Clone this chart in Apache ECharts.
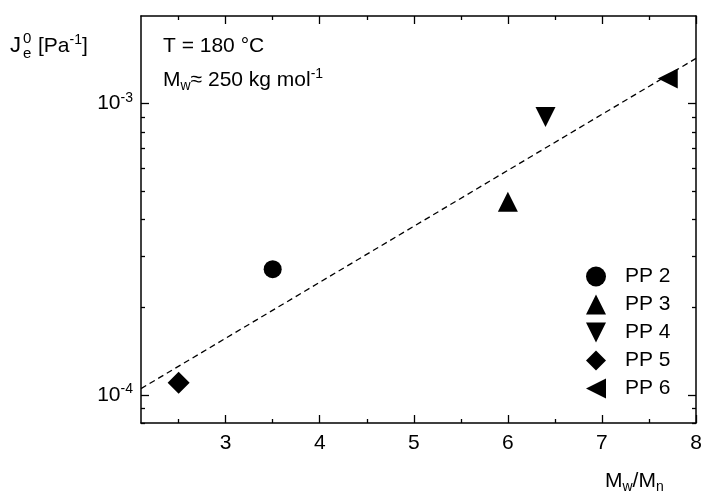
<!DOCTYPE html>
<html><head><meta charset="utf-8">
<script src="https://cdn.jsdelivr.net/npm/echarts@6/dist/echarts.min.js"></script>
<style>html,body{margin:0;padding:0;background:#fff}#c{width:714px;height:502px}</style>
</head><body><div id="c"></div>
<script>
const seriesNames = ['PP 2', 'PP 3', 'PP 4', 'PP 5', 'PP 6'];
const mwmn = [3.5, 6.0, 6.4, 2.5, 7.7];
const je0 = [2.7e-4, 4.6e-4, 9.0e-4, 1.1e-4, 1.22e-3];
const symbols = ['circle', 'triangle', 'triangle', 'diamond', 'triangle'];
const rotations = [0, 0, 180, 0, 90];
const sizes = [18, 20, 20, 22, 20];
const legendIcons = ['circle', 'triangle', 'path://M0,0L20,0L10,20Z', 'diamond', 'path://M20,0L20,20L0,10Z'];
const fitX = [2.1, 8];
const fitY = [1.05e-4, 1.43e-3];
const xMajorTicks = [3, 4, 5, 6, 7, 8];
const xMinorTicks = [2.5, 3.5, 4.5, 5.5, 6.5, 7.5];
const yMajorTicks = [1e-4, 1e-3];
const yMinorTicks = [8e-5, 9e-5, 2e-4, 3e-4, 4e-4, 5e-4, 6e-4, 7e-4, 8e-4, 9e-4];

const FONT = '"Liberation Sans", Arial, sans-serif';
const X_MIN = 2.1, X_MAX = 8, Y_MIN = 8e-5, Y_MAX = 2e-3;
const supRich = {
  n: { fontSize: 21, fontFamily: FONT, color: '#000', lineHeight: 26 },
  sup: { fontSize: 14, fontFamily: FONT, color: '#000', verticalAlign: 'top', lineHeight: 10 },
  sub: { fontSize: 14, fontFamily: FONT, color: '#000', verticalAlign: 'bottom', lineHeight: 12 }
};

function xAx(grid, pos, ticks, len, labels, line) {
  return {
    type: 'value', gridIndex: grid, position: pos, min: X_MIN, max: X_MAX,
    axisLine: { show: line, onZero: false, lineStyle: { color: '#000', width: 1.5 } },
    axisTick: { show: true, inside: true, length: len, customValues: ticks, lineStyle: { color: '#000', width: 1.3 } },
    axisLabel: labels ? { show: true, customValues: ticks, fontSize: 21, fontFamily: FONT, color: '#000', margin: 10 } : { show: false },
    splitLine: { show: false }
  };
}
function yAx(grid, pos, ticks, len, labels, line) {
  return {
    type: 'log', logBase: 10, gridIndex: grid, position: pos, min: Y_MIN, max: Y_MAX,
    axisLine: { show: line, onZero: false, lineStyle: { color: '#000', width: 1.5 } },
    axisTick: { show: true, inside: true, length: len, customValues: ticks, lineStyle: { color: '#000', width: 1.3 } },
    axisLabel: labels ? {
      show: true, customValues: ticks, margin: 8,
      formatter: v => '{n|10}{sup|' + Math.round(Math.log10(v)) + '}',
      rich: supRich
    } : { show: false },
    splitLine: { show: false }
  };
}

const gridRect = { left: 141, right: 18, top: 16, bottom: 79, containLabel: false };

const series = seriesNames.map((name, i) => ({
  name: name, type: 'scatter', xAxisIndex: 0, yAxisIndex: 0,
  symbol: symbols[i], symbolRotate: rotations[i], symbolSize: sizes[i],
  itemStyle: { color: '#000', opacity: 1 }, z: 3,
  data: [[mwmn[i], je0[i]]]
}));
series.push({
  name: 'fit', type: 'line', xAxisIndex: 0, yAxisIndex: 0, showSymbol: false, symbol: 'none',
  lineStyle: { color: '#000', width: 1.3, type: [6, 4] }, z: 2,
  data: fitX.map((x, i) => [x, fitY[i]])
});

const option = {
  backgroundColor: '#fff',
  animation: false,
  grid: [Object.assign({}, gridRect), Object.assign({}, gridRect)],
  xAxis: [
    xAx(0, 'bottom', xMajorTicks, 8, true, true),
    xAx(0, 'top', xMajorTicks, 8, false, true),
    xAx(1, 'bottom', xMinorTicks, 4, false, false),
    xAx(1, 'top', xMinorTicks, 4, false, false)
  ],
  yAxis: [
    yAx(0, 'left', yMajorTicks, 8, true, true),
    yAx(0, 'right', yMajorTicks, 8, false, true),
    yAx(1, 'left', yMinorTicks, 4, false, false),
    yAx(1, 'right', yMinorTicks, 4, false, false)
  ],
  legend: {
    data: seriesNames.map((n, i) => ({ name: n, icon: legendIcons[i], itemStyle: { color: '#000', opacity: 1 } })),
    orient: 'vertical', left: 581, top: 261,
    itemWidth: 20, itemHeight: 20, itemGap: 7,
    textStyle: { fontSize: 21, fontFamily: FONT, color: '#000', lineHeight: 20, padding: [0, 0, 0, 14] },
    selectedMode: false
  },
  graphic: [
    { type: 'text', left: 10, top: 35, style: { text: 'J', fontSize: 22, fontFamily: FONT, fill: '#000' } },
    { type: 'text', left: 23, top: 31, style: { text: '0', fontSize: 15, fontFamily: FONT, fill: '#000' } },
    { type: 'text', left: 23, top: 46, style: { text: 'e', fontSize: 15, fontFamily: FONT, fill: '#000' } },
    { type: 'text', left: 38, top: 33, style: { text: '{n|[Pa}{sup|-1}{n|]}', rich: supRich, fill: '#000' } },
    { type: 'text', left: 163, top: 36, style: { text: '{n|T = 180 °C}', rich: supRich, fill: '#000' } },
    { type: 'text', left: 163, top: 67, style: { text: '{n|M}{sub|w}{n|≈ 250 kg mol}{sup|-1}', rich: supRich, fill: '#000' } },
    { type: 'text', left: 605, top: 471, style: { text: '{n|M}{sub|w}{n|/M}{sub|n}', rich: supRich, fill: '#000' } }
  ],
  series: series
};
const chart = echarts.init(document.getElementById('c'), null, { renderer: 'canvas' });
chart.setOption(option);
</script></body></html>
